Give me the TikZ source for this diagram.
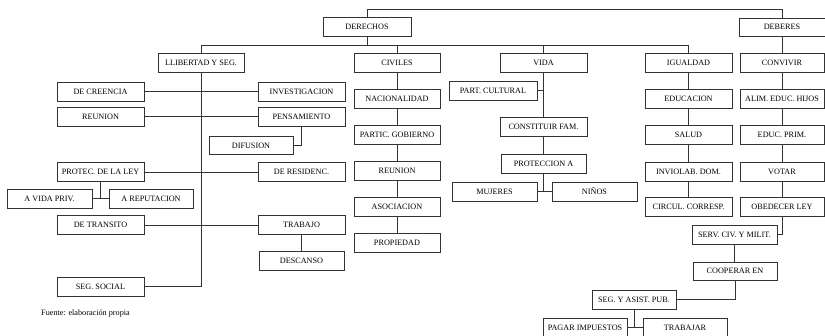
\documentclass[tikz,border=0pt]{standalone}
\usepackage{fontspec}
\setmainfont{Liberation Serif}
\begin{document}
\begin{tikzpicture}[x=1pt,y=-1pt,
  box/.style={draw=black!80, line width=0.9pt, fill=white, minimum width=86pt, minimum height=19pt, inner sep=0pt, font=\fontsize{8.2}{9}\selectfont, text=black},
  ln/.style={draw=black!80, line width=0.9pt}]
\useasboundingbox (0,0) rectangle (825,335);
\clip (0,0) rectangle (825,335);
% level 0
\node[box, minimum width=88pt] (derechos) at (367,26.5) {DERECHOS};
\node[box, minimum width=86pt, minimum height=18pt] (deberes) at (782,27) {DEBERES};
% level 1
\node[box] (lib) at (201,62.5) {LLIBERTAD Y SEG.};
\node[box] (civiles) at (397,62.5) {CIVILES};
\node[box, minimum width=87pt] (vida) at (543.5,62.5) {VIDA};
\node[box, minimum width=87pt] (igualdad) at (688.5,62.5) {IGUALDAD};
\node[box, minimum width=84pt] (convivir) at (782,62.5) {CONVIVIR};
% libertad branch
\node[box, minimum width=87pt] (decreencia) at (100.5,91.5) {DE CREENCIA};
\node[box, minimum width=87pt] (investigacion) at (301.5,91.5) {INVESTIGACION};
\node[box, minimum width=87pt] (reunionA) at (100.5,116.5) {REUNION};
\node[box, minimum width=87pt] (pensamiento) at (301.5,116.5) {PENSAMIENTO};
\node[box, minimum width=84pt, minimum height=18pt] (difusion) at (251,145.5) {DIFUSION};
\node[box, minimum width=87pt] (protec) at (100.5,172) {PROTEC. DE LA LEY};
\node[box, minimum width=87pt] (residenc) at (301.5,172) {DE RESIDENC.};
\node[box, minimum width=85pt] (vidapriv) at (49.5,198.5) {A VIDA PRIV.};
\node[box, minimum width=84pt] (reputacion) at (151,198.5) {A REPUTACION};
\node[box, minimum width=87pt] (transito) at (100.5,225) {DE TRANSITO};
\node[box, minimum width=87pt] (trabajo) at (301.5,225) {TRABAJO};
\node[box, minimum width=85pt] (descanso) at (301.5,260.5) {DESCANSO};
\node[box, minimum width=87pt] (segsocial) at (100.5,286.5) {SEG. SOCIAL};
% civiles branch
\node[box] (nacionalidad) at (397,99) {NACIONALIDAD};
\node[box] (partic) at (397,135) {PARTIC. GOBIERNO};
\node[box] (reunionB) at (397,171) {REUNION};
\node[box] (asociacion) at (397,207) {ASOCIACION};
\node[box] (propiedad) at (397,243) {PROPIEDAD};
% vida branch
\node[box, minimum width=88pt] (partcultural) at (493,90.5) {PART. CULTURAL};
\node[box, minimum width=87pt] (constituir) at (543.5,126.5) {CONSTITUIR FAM.};
\node[box, minimum width=85pt] (proteccion) at (543.5,163.5) {PROTECCION A};
\node[box, minimum width=85pt] (mujeres) at (494.5,191.5) {MUJERES};
\node[box, minimum width=85pt] (ninos) at (594.5,191.5) {NIÑOS};
% igualdad branch
\node[box, minimum width=87pt] (educacion) at (688.5,98.5) {EDUCACION};
\node[box, minimum width=87pt] (salud) at (688.5,135) {SALUD};
\node[box, minimum width=87pt] (inviolab) at (688.5,171.5) {INVIOLAB. DOM.};
\node[box, minimum width=87pt] (circul) at (688.5,207) {CIRCUL. CORRESP.};
% deberes branch
\node[box, minimum width=84pt] (alim) at (782,98.5) {ALIM. EDUC. HIJOS};
\node[box, minimum width=84pt] (educprim) at (782,135) {EDUC. PRIM.};
\node[box, minimum width=84pt] (votar) at (782,171.5) {VOTAR};
\node[box, minimum width=84pt] (obedecer) at (782,207) {OBEDECER LEY};
\node[box, minimum width=85pt] (serv) at (734.5,234.5) {SERV. CIV. Y MILIT.};
\node[box, minimum width=84pt, minimum height=18pt] (cooperar) at (735,271) {COOPERAR EN};
\node[box, minimum width=84pt] (segasist) at (634,299.5) {SEG. Y ASIST. PUB.};
\node[box, minimum width=84pt] (pagar) at (585,327.5) {PAGAR IMPUESTOS};
\node[box, minimum width=84pt] (trabajar) at (685,327.5) {TRABAJAR};
% source note
\node[anchor=west, inner sep=0pt, font=\fontsize{8.2}{9}\selectfont] (fuente) at (41,314) {Fuente: elaboración propia};
% connectors
\coordinate (topy) at (0,9);
\coordinate (bus) at (0,45);
\draw[ln] (derechos.north) -- (derechos.north |- topy) -| (deberes.north);
\draw[ln] (derechos.south) -- (derechos.south |- bus);
\draw[ln] (lib.north) -- (lib.north |- bus) -- (igualdad.north |- bus) -- (igualdad.north);
\draw[ln] (civiles.north) -- (civiles.north |- bus);
\draw[ln] (vida.north) -- (vida.north |- bus);
% libertad
\draw[ln] (lib.south) |- (segsocial.east);
\draw[ln] (decreencia.east) -- (investigacion.west);
\draw[ln] (reunionA.east) -- (pensamiento.west);
\draw[ln] (protec.east) -- (residenc.west);
\draw[ln] (transito.east) -- (trabajo.west);
\draw[ln] (pensamiento.south) |- (difusion.east);
\draw[ln] (trabajo.south) -- (descanso.north);
\draw[ln] (protec.south) -- (protec.south |- vidapriv.east);
\draw[ln] (vidapriv.east) -- (reputacion.west);
% civiles
\draw[ln] (civiles.south) -- (nacionalidad.north);
\draw[ln] (nacionalidad.south) -- (partic.north);
\draw[ln] (partic.south) -- (reunionB.north);
\draw[ln] (reunionB.south) -- (asociacion.north);
\draw[ln] (asociacion.south) -- (propiedad.north);
% vida
\draw[ln] (vida.south) -- (constituir.north);
\draw[ln] (partcultural.east) -- (vida.south |- partcultural.east);
\draw[ln] (constituir.south) -- (proteccion.north);
\draw[ln] (proteccion.south) -- (proteccion.south |- mujeres.east);
\draw[ln] (mujeres.east) -- (ninos.west);
% igualdad
\draw[ln] (igualdad.south) -- (educacion.north);
\draw[ln] (educacion.south) -- (salud.north);
\draw[ln] (salud.south) -- (inviolab.north);
\draw[ln] (inviolab.south) -- (circul.north);
% deberes
\draw[ln] (deberes.south) -- (convivir.north);
\draw[ln] (convivir.south) -- (alim.north);
\draw[ln] (alim.south) -- (educprim.north);
\draw[ln] (educprim.south) -- (votar.north);
\draw[ln] (votar.south) -- (obedecer.north);
\draw[ln] (obedecer.south) |- (serv.east);
\draw[ln] (serv.south) -- (serv.south |- cooperar.north);
\draw[ln] (cooperar.south) |- (segasist.east);
\draw[ln] (segasist.south) -- (segasist.south |- pagar.east);
\draw[ln] (pagar.east) -- (trabajar.west);
\end{tikzpicture}
\end{document}
